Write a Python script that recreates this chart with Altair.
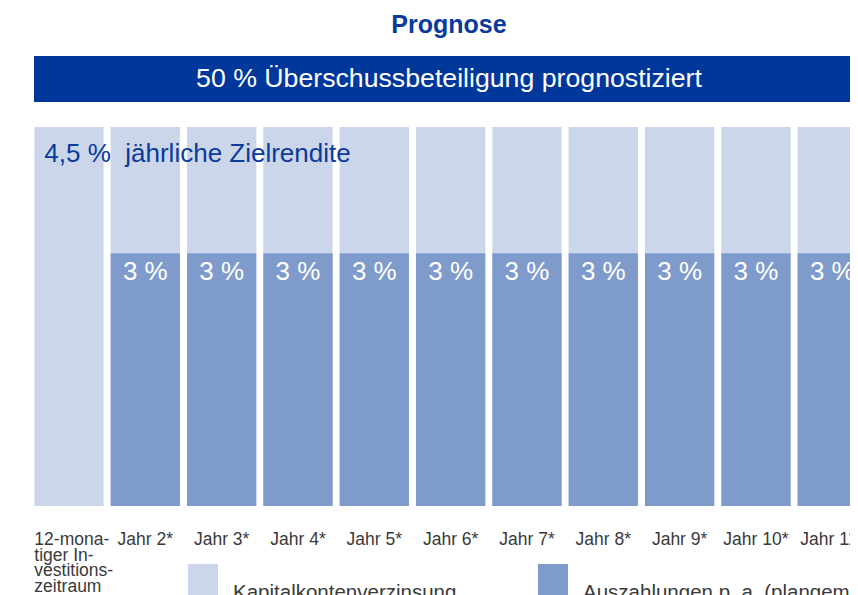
import altair as alt
import pandas as pd

# ---------------- data ----------------
categories = ["12-monatiger Investitionszeitraum", "Jahr 2*", "Jahr 3*", "Jahr 4*", "Jahr 5*",
              "Jahr 6*", "Jahr 7*", "Jahr 8*", "Jahr 9*", "Jahr 10*", "Jahr 11*"]
category_labels = ["12-mona-\ntiger In-\nvestitions-\nzeitraum", "Jahr 2*", "Jahr 3*", "Jahr 4*",
                   "Jahr 5*", "Jahr 6*", "Jahr 7*", "Jahr 8*", "Jahr 9*", "Jahr 10*", "Jahr 11*"]
zielrendite = [4.5, 4.5, 4.5, 4.5, 4.5, 4.5, 4.5, 4.5, 4.5, 4.5, 4.5]
auszahlungen = [None, 3, 3, 3, 3, 3, 3, 3, 3, 3, 3]
series_names = ["Kapitalkontenverzinsung", "Auszahlungen p. a. (plangemäß)"]
title_text = "Prognose"
banner_text = "50 % Überschussbeteiligung prognostiziert"
target_text = "4,5 %\u00a0 jährliche Zielrendite"

# ---------------- styles ----------------
FONT = "Liberation Sans"
BLUE = "#0a3a9c"
BANNER = "#00379b"
LIGHT = "#cbd6ea"
DARK = "#7f9bcc"
GREY = "#3a3a3a"
HALF = 0.454  # half bar width in category units

idx = list(range(len(categories)))
light_df = pd.DataFrame({"cat": categories, "idx": idx, "value": zielrendite,
                         "series": series_names[0], "label": category_labels})
light_df["base"] = 0
dark_df = pd.DataFrame({"cat": categories[1:], "idx": idx[1:], "value": auszahlungen[1:],
                        "series": series_names[1]})
dark_df["base"] = 0
dark_df["pct"] = [f"{v:g} %" for v in dark_df["value"]]
first_df = light_df.iloc[[0]].reset_index(drop=True)
rest_df = light_df.iloc[1:].reset_index(drop=True)
target_df = pd.DataFrame({"idx": [idx[0]], "value": [zielrendite[0]], "t": [target_text]})
banner_df = pd.DataFrame({"t": [banner_text]})
title_df = pd.DataFrame({"t": [title_text]})
leg1_df = pd.DataFrame({"series": [series_names[0]]})
leg2_df = pd.DataFrame({"series": [series_names[1]]})

W = 842
xscale = alt.Scale(domain=[-0.799, -0.799 + W / 76.33], nice=False, zero=False)
yscale = alt.Scale(domain=[0, 4.5], nice=False, zero=True)
cscale = alt.Scale(domain=series_names, range=[LIGHT, DARK])

Y = alt.Y("value:Q", scale=yscale, axis=None, stack=None)
YB = alt.Y("base:Q", scale=yscale, axis=None, stack=None)
XI = alt.X("idx:Q", scale=xscale, axis=None)
XL = alt.X("lo:Q", scale=xscale, axis=None)


def bars(df):
    return alt.Chart(df).transform_calculate(
        lo=f"datum.idx - {HALF}", hi=f"datum.idx + {HALF}"
    ).mark_rect().encode(
        x=XL, x2="hi:Q", y=Y, y2="base:Q",
        color=alt.Color("series:N", scale=cscale, legend=None),
    )


light_bars = bars(light_df)
dark_bars = bars(dark_df)

pct_text = alt.Chart(dark_df).mark_text(font=FONT, fontSize=26, color="white", baseline="middle",
                                        align="center", dy=19).encode(x=XI, y=Y, text="pct:N")

first_label = alt.Chart(first_df).transform_calculate(lo=f"datum.idx - {HALF}").mark_text(
    font=FONT, fontSize=17.5, color=GREY, align="left", baseline="top", lineBreak="\n",
    lineHeight=15.5, dy=25).encode(x=XL, y=YB, text="label:N")
rest_labels = alt.Chart(rest_df).mark_text(font=FONT, fontSize=17.5, color=GREY, align="center",
                                           baseline="top", dy=25).encode(
    x=XI, y=YB, text="label:N")

target = alt.Chart(target_df).transform_calculate(lo=f"datum.idx - {HALF}").mark_text(
    font=FONT, fontSize=26, color=BLUE, align="left", baseline="middle", dx=10, dy=27).encode(
    x=XL, y=Y, text="t:N")

banner = alt.Chart(banner_df).mark_rect(color=BANNER).encode(
    x=alt.value(26), x2=alt.value(W), y=alt.value(-71), y2=alt.value(-25))
banner_txt = alt.Chart(banner_df).mark_text(font=FONT, fontSize=26.7, color="white",
                                            align="center", baseline="middle").encode(
    x=alt.value(441), y=alt.value(-48), text="t:N")
title = alt.Chart(title_df).mark_text(font=FONT, fontSize=25, fontWeight="bold", color=BLUE,
                                      align="center", baseline="middle").encode(
    x=alt.value(441), y=alt.value(-102), text="t:N")

# legend (drawn by hand so that it can sit exactly where the reference has it)
leg_sq1 = alt.Chart(leg1_df).mark_rect().encode(
    x=alt.value(180), x2=alt.value(210), y=alt.value(437), y2=alt.value(468),
    color=alt.Color("series:N", scale=cscale, legend=None))
leg_tx1 = alt.Chart(leg1_df).mark_text(font=FONT, fontSize=20.5, color=GREY, align="left",
                                       baseline="top").encode(
    x=alt.value(225), y=alt.value(456), text="series:N")
leg_sq2 = alt.Chart(leg2_df).mark_rect().encode(
    x=alt.value(530), x2=alt.value(560), y=alt.value(437), y2=alt.value(468),
    color=alt.Color("series:N", scale=cscale, legend=None))
leg_tx2 = alt.Chart(leg2_df).mark_text(font=FONT, fontSize=20.5, color=GREY, align="left",
                                       baseline="top").encode(
    x=alt.value(575), y=alt.value(456), text="series:N")

chart = alt.layer(light_bars, dark_bars, pct_text, first_label, rest_labels, target,
                  banner, banner_txt, title, leg_sq1, leg_tx1, leg_sq2, leg_tx2).properties(
    width=W, height=379, autosize=alt.AutoSizeParams(type="none"),
    padding={"left": 0, "top": 119, "right": 0, "bottom": 89}
).configure_view(stroke=None)

chart.save("out.html", embed_options={"renderer": "svg", "actions": False})
